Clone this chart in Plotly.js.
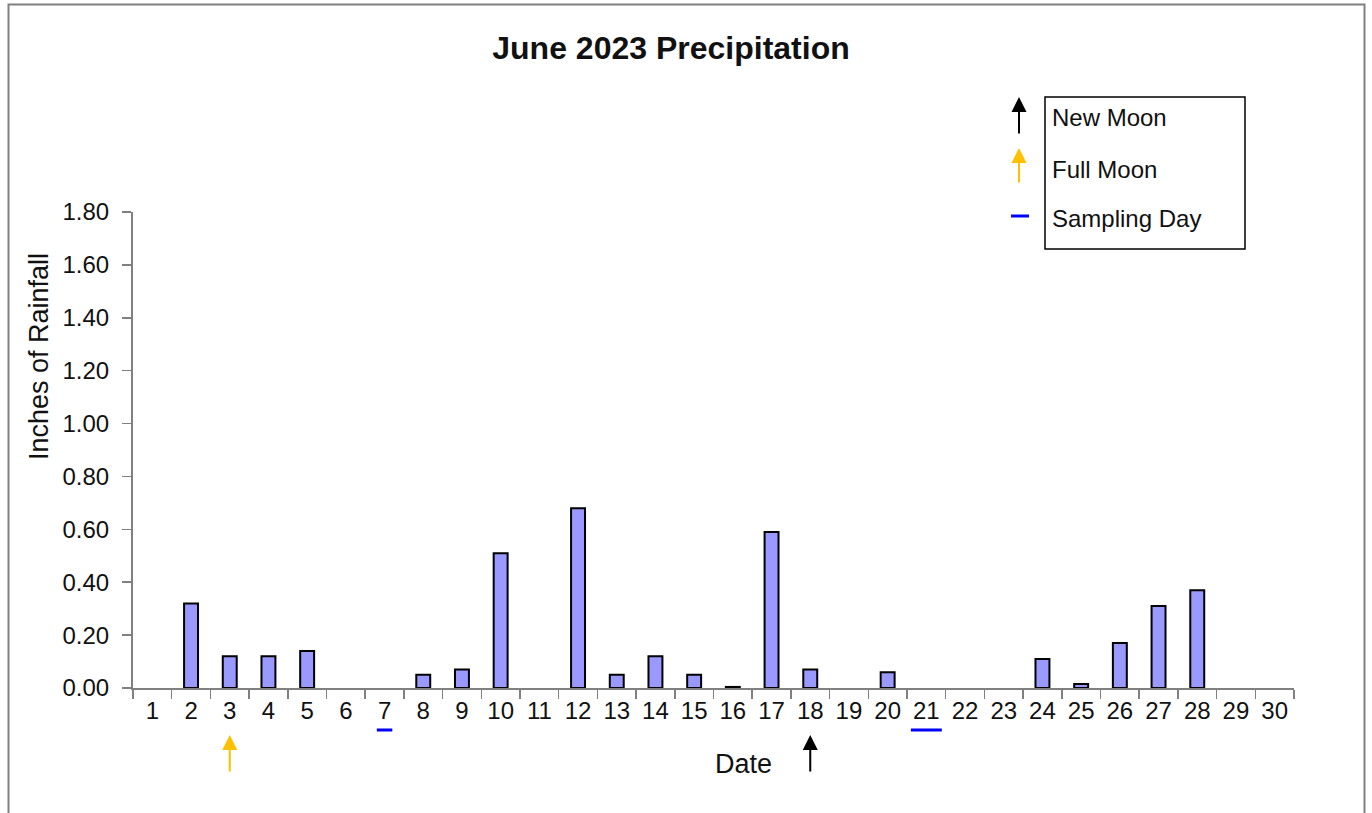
<!DOCTYPE html>
<html>
<head>
<meta charset="utf-8">
<script src="https://cdn.plot.ly/plotly-3.0.1.min.js"></script>
<style>html,body{margin:0;padding:0;background:#fff;}#chart{width:1372px;height:813px;}</style>
</head>
<body>
<div id="chart"></div>
<script>
// ---- data ----
const dates = ['1','2','3','4','5','6','7','8','9','10','11','12','13','14','15','16','17','18','19','20','21','22','23','24','25','26','27','28','29','30'];
const rainfall = [0, 0.32, 0.12, 0.12, 0.14, 0, 0, 0.05, 0.07, 0.51, 0, 0.68, 0.05, 0.12, 0.05, 0.004, 0.59, 0.07, 0, 0.06, 0, 0, 0, 0.11, 0.015, 0.17, 0.31, 0.37, 0, 0];
const newMoonDays = ['18'];
const fullMoonDays = ['3'];
const samplingDays = ['7', '21'];
const legendLabels = ['New Moon', 'Full Moon', 'Sampling Day'];
const chartTitle = 'June 2023 Precipitation';
const xTitle = 'Date';
const yTitle = 'Inches of Rainfall';

// ---- layout geometry (pixels -> paper) ----
const W = 1372, H = 813;
const L = 133, R = 78, T = 212, B = 125;
const pw = W - L - R, ph = H - T - B;
const px = x => (x - L) / pw;
const py = y => (H - B - y) / ph;
const idx = d => dates.indexOf(d);

const FONT = 'Liberation Sans, Arial, sans-serif';
const GRAY = '#808080';
const BLUE = '#0000FF';
const GOLD = '#FFC000';

const shapes = [];
const annotations = [];

// outer border
shapes.push({type: 'rect', xref: 'paper', yref: 'paper', x0: px(8.5), x1: px(1364.5), y0: py(4.5), y1: py(830), line: {color: GRAY, width: 2}, fillcolor: 'rgba(0,0,0,0)', layer: 'below'});

// legend box
shapes.push({type: 'rect', xref: 'paper', yref: 'paper', x0: px(1045), x1: px(1245), y0: py(97), y1: py(249), line: {color: '#000', width: 1.5}, fillcolor: 'rgba(0,0,0,0)'});
const legY = [117, 169, 219];
legendLabels.forEach((t, i) => {
  annotations.push({text: t, xref: 'paper', yref: 'paper', x: px(1050), y: py(legY[i]), xanchor: 'left', yanchor: 'middle', showarrow: false, font: {family: FONT, size: 24, color: '#111'}});
});
const arrowStyle = {showarrow: true, arrowhead: 2, arrowsize: 1.5, arrowwidth: 2, standoff: 0, text: ''};
// legend symbols
annotations.push(Object.assign({xref: 'paper', yref: 'paper', x: px(1019), y: py(97), ax: 0, ay: 38, arrowcolor: '#000'}, arrowStyle));
annotations.push(Object.assign({xref: 'paper', yref: 'paper', x: px(1019), y: py(148), ax: 0, ay: 36, arrowcolor: GOLD}, arrowStyle));
shapes.push({type: 'line', xref: 'paper', yref: 'paper', x0: px(1011), x1: px(1029), y0: py(216), y1: py(216), line: {color: BLUE, width: 3}});

// markers below the x axis
newMoonDays.forEach(d => annotations.push(Object.assign({x: idx(d), xref: 'x', yref: 'paper', y: py(735), ax: 0, ay: 38, arrowcolor: '#000'}, arrowStyle)));
fullMoonDays.forEach(d => annotations.push(Object.assign({x: idx(d), xref: 'x', yref: 'paper', y: py(735), ax: 0, ay: 38, arrowcolor: GOLD}, arrowStyle)));
samplingDays.forEach(d => {
  const half = 0.2 * d.length;
  shapes.push({type: 'line', xref: 'x', yref: 'paper', x0: idx(d) - half, x1: idx(d) + half, y0: py(730), y1: py(730), line: {color: BLUE, width: 3}});
});

// axis titles as annotations (positioned like the reference)
annotations.push({text: xTitle, xref: 'paper', yref: 'paper', x: px(743), y: py(764), xanchor: 'center', yanchor: 'middle', showarrow: false, font: {family: FONT, size: 27, color: '#111'}});
annotations.push({text: yTitle, xref: 'paper', yref: 'paper', x: px(39), y: py(357), xanchor: 'center', yanchor: 'middle', textangle: -90, showarrow: false, font: {family: FONT, size: 27, color: '#111'}});

const trace = {
  type: 'bar', x: dates, y: rainfall.map(v => v > 0 ? v : null), width: 0.36,
  marker: {color: '#9999FF', line: {color: '#000', width: 2}},
  hoverinfo: 'x+y'
};

const layout = {
  width: W, height: H,
  margin: {l: L, r: R, t: T, b: B, pad: 0},
  paper_bgcolor: '#fff', plot_bgcolor: '#fff',
  showlegend: false,
  title: {text: '<b>' + chartTitle + '</b>', x: px(671), xanchor: 'center', xref: 'paper', y: 1 - 48 / H, yanchor: 'middle', font: {family: FONT, size: 32, color: '#111'}},
  xaxis: {
    type: 'category', range: [-0.5, 29.5], tickson: 'boundaries', ticks: 'outside', ticklen: 9, tickwidth: 1.5, tickcolor: GRAY,
    showline: true, linecolor: GRAY, linewidth: 2, showgrid: false, zeroline: false,
    tickfont: {family: FONT, size: 24, color: '#111'}, fixedrange: true
  },
  yaxis: {
    range: [0, 1.8], dtick: 0.2, tick0: 0, tickformat: '.2f', ticks: 'outside', ticklen: 9, tickwidth: 1.5, tickcolor: GRAY,
    showline: true, linecolor: GRAY, linewidth: 2, showgrid: false, zeroline: false,
    ticklabelstandoff: 8,
    tickfont: {family: FONT, size: 24, color: '#111'}, fixedrange: true
  },
  shapes: shapes,
  annotations: annotations
};

Plotly.newPlot('chart', [trace], layout, {displayModeBar: false, staticPlot: true});
</script>
</body>
</html>
